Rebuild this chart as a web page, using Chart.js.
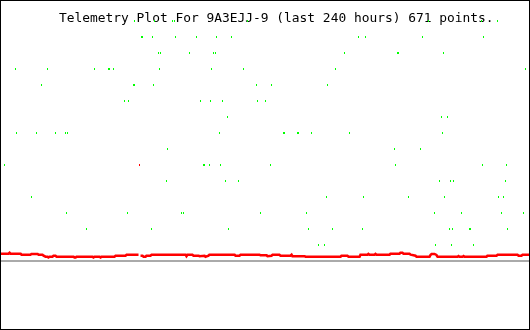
<!DOCTYPE html>
<html>
<head>
<meta charset="utf-8">
<script src="https://cdn.jsdelivr.net/npm/chart.js"></script>
<style>
  body { margin: 0; background: #fff; }
</style>
</head>
<body>
<canvas id="myChart" width="530" height="330"></canvas>

<script>
const TITLE = "Telemetry Plot For 9A3EJJ-9 (last 240 hours) 671 points.";

// green bit hits, hours since start of window, one array per bit level (0 = lowest)
const bitHours = [
  [144.0, 146.7, 197.0, 204.2, 214.2],
  [38.9, 68.4, 103.2, 139.5, 150.3, 163.9, 203.3, 204.7, 212.4, 212.8, 229.6],
  [29.9, 57.5, 82.0, 82.9, 117.7, 138.6, 196.5, 208.8, 226.9, 236.8],
  [14.0, 147.6, 164.4, 184.8, 201.1, 225.5, 227.8],
  [75.2, 101.9, 107.8, 198.8, 203.8, 205.1, 228.7],
  [1.8, 91.9, 92.4, 94.6, 99.6, 122.3, 178.9, 218.3, 229.1],
  [75.6, 178.4, 190.2],
  [7.2, 16.3, 24.9, 29.4, 30.3, 99.2, 128.2, 128.6, 134.5, 134.9, 140.8, 158.0, 200.2],
  [102.8, 199.7, 202.4],
  [56.2, 58.0, 90.6, 95.1, 100.5, 116.4, 120.0],
  [18.6, 60.2, 60.7, 69.3, 115.9, 122.7, 148.1],
  [6.8, 21.3, 42.6, 48.9, 49.4, 51.2, 72.0, 95.5, 110.0, 151.7, 237.7],
  [71.5, 72.5, 85.6, 96.5, 97.4, 155.8, 179.8, 180.2, 200.6],
  [63.8, 64.3, 68.8, 79.2, 88.8, 97.8, 104.6, 162.1, 165.3, 191.1, 218.7],
  [60.7, 69.7, 77.9, 78.8, 111.8, 193.8, 217.8, 225.1]
];

// red telemetry trace
const redHours = [
  0.0, 3.6, 4.1, 4.5, 9.1, 9.5, 13.6, 14.0, 16.8, 17.2, 19.0, 19.5, 20.4, 21.3, 21.7, 22.2,
  23.5, 24.0, 24.9, 25.4, 33.1, 33.5, 34.0, 34.4, 41.7, 42.1, 42.6, 44.8, 45.3, 45.7, 51.6, 52.1,
  56.6, 57.1, 62.5, 62.9, 63.4, 64.3, 64.8, 65.7, 66.1, 67.9, 68.4, 83.8, 84.2, 84.7, 86.9, 87.4,
  89.7, 90.1, 92.4, 92.8, 94.2, 94.6, 106.0, 106.4, 108.2, 108.7, 117.3, 117.7, 120.5, 120.9, 122.7, 123.2,
  126.3, 126.8, 131.3, 131.8, 132.2, 137.7, 138.1, 154.0, 154.4, 157.1, 157.6, 162.6, 163.0, 166.2, 166.6, 167.1,
  169.4, 169.8, 170.3, 176.2, 176.6, 180.7, 181.1, 182.0, 182.5, 185.2, 185.7, 187.0, 187.9, 188.4, 194.3, 194.7,
  195.2, 196.5, 197.4, 197.9, 206.9, 207.4, 207.8, 209.2, 209.7, 210.1, 220.1, 220.5, 224.6, 225.1, 234.1, 234.6,
  235.9, 236.4, 240.0
];
const redValues = [
  76.3, 76.3, 77.3, 76.3, 76.3, 75.3, 75.3, 76.1, 76.1, 75.3, 75.3, 74.3, 73.3, 73.3, 72.5, 73.3,
  73.3, 74.3, 74.3, 73.3, 73.3, 72.5, 72.5, 73.3, 73.3, 72.5, 73.3, 73.3, 72.5, 73.3, 73.3, 74.3,
  74.3, 75.3, 75.3, null, 74.3, 74.3, 73.3, 73.3, 74.3, 74.3, 75.3, 75.3, 73.8, 75.3, 75.3, 74.3,
  74.3, 73.8, 74.3, 73.3, 74.3, 75.3, 75.3, 74.3, 74.3, 75.3, 75.3, 74.7, 74.7, 73.8, 74.3, 75.3,
  75.3, 74.3, 74.3, 75.3, 73.8, 73.8, 73.3, 73.3, 74.3, 74.3, 73.3, 73.3, 75.3, 75.3, 76.1, 75.3,
  75.3, 76.1, 75.3, 75.3, 76.3, 76.3, 77.3, 77.3, 76.3, 76.3, 75.3, 74.8, 74.3, 73.3, 73.3, 75.0,
  76.0, 76.0, 75.0, 73.3, 73.3, 74.0, 73.3, 73.3, 74.0, 73.3, 73.3, 74.3, 74.3, 75.3, 75.3, 74.3,
  74.3, 75.3, 75.3
];

// lone outlier of the red trace
const spikeHours = [62.9];
const spikeValues = [165];

// grey reference level
const baseHours = [-1, 241];
const baseValue = 69;

function dotImage(color, w, h) {
  const c = document.createElement('canvas');
  c.width = w; c.height = h;
  const g = c.getContext('2d');
  g.fillStyle = color;
  g.fillRect(0, 0, w, h);
  return c;
}

const greenDot = dotImage('#00ff00', 1, 2);
const redDot = dotImage('#ff0000', 1, 2);

const greenPoints = [];
bitHours.forEach((row, level) => {
  row.forEach(h => greenPoints.push({ x: h, y: level }));
});

const redPoints = redHours.map((h, i) => ({ x: h, y: redValues[i] }));
const spikePoints = spikeHours.map((h, i) => ({ x: h, y: spikeValues[i] }));
const basePoints = baseHours.map(h => ({ x: h, y: baseValue }));

const titlePlugin = {
  id: 'plotTitle',
  beforeDatasetsDraw(chart) {
    const ctx = chart.ctx;
    ctx.save();
    ctx.font = '12.9px "DejaVu Sans Mono", monospace';
    ctx.fillStyle = '#000';
    ctx.textBaseline = 'alphabetic';
    ctx.fillText(TITLE, 59, 22);
    ctx.restore();
  }
};

const framePlugin = {
  id: 'frame',
  afterDraw(chart) {
    const ctx = chart.ctx;
    ctx.save();
    ctx.strokeStyle = '#000';
    ctx.lineWidth = 1;
    ctx.strokeRect(0.5, 0.5, chart.width - 1, chart.height - 1);
    ctx.restore();
  }
};

new Chart(document.getElementById('myChart'), {
  type: 'scatter',
  data: {
    datasets: [
      {
        label: 'bits',
        data: greenPoints,
        yAxisID: 'yBit',
        pointStyle: greenDot,
        pointRadius: 1,
        showLine: false
      },
      {
        label: 'spike',
        data: spikePoints,
        yAxisID: 'yVal',
        pointStyle: redDot,
        pointRadius: 1,
        showLine: false
      },
      {
        label: 'value',
        data: redPoints,
        yAxisID: 'yVal',
        showLine: true,
        spanGaps: false,
        borderColor: '#ff0000',
        borderWidth: 2.5,
        pointRadius: 0,
        tension: 0
      },
      {
        label: 'base',
        data: basePoints,
        yAxisID: 'yVal',
        showLine: true,
        borderColor: '#aaaaaa',
        borderWidth: 2,
        pointRadius: 0
      }
    ]
  },
  options: {
    responsive: false,
    animation: false,
    devicePixelRatio: 1,
    layout: { padding: 0, autoPadding: false },
    plugins: {
      legend: { display: false },
      tooltip: { enabled: false }
    },
    scales: {
      x: { type: 'linear', display: false, min: -0.23, max: 239.77 },
      yBit: { type: 'linear', display: false, min: -5.3125, max: 15.3125 },
      yVal: { type: 'linear', display: false, min: 0, max: 330 }
    }
  },
  plugins: [titlePlugin, framePlugin]
});
</script>
</body>
</html>
